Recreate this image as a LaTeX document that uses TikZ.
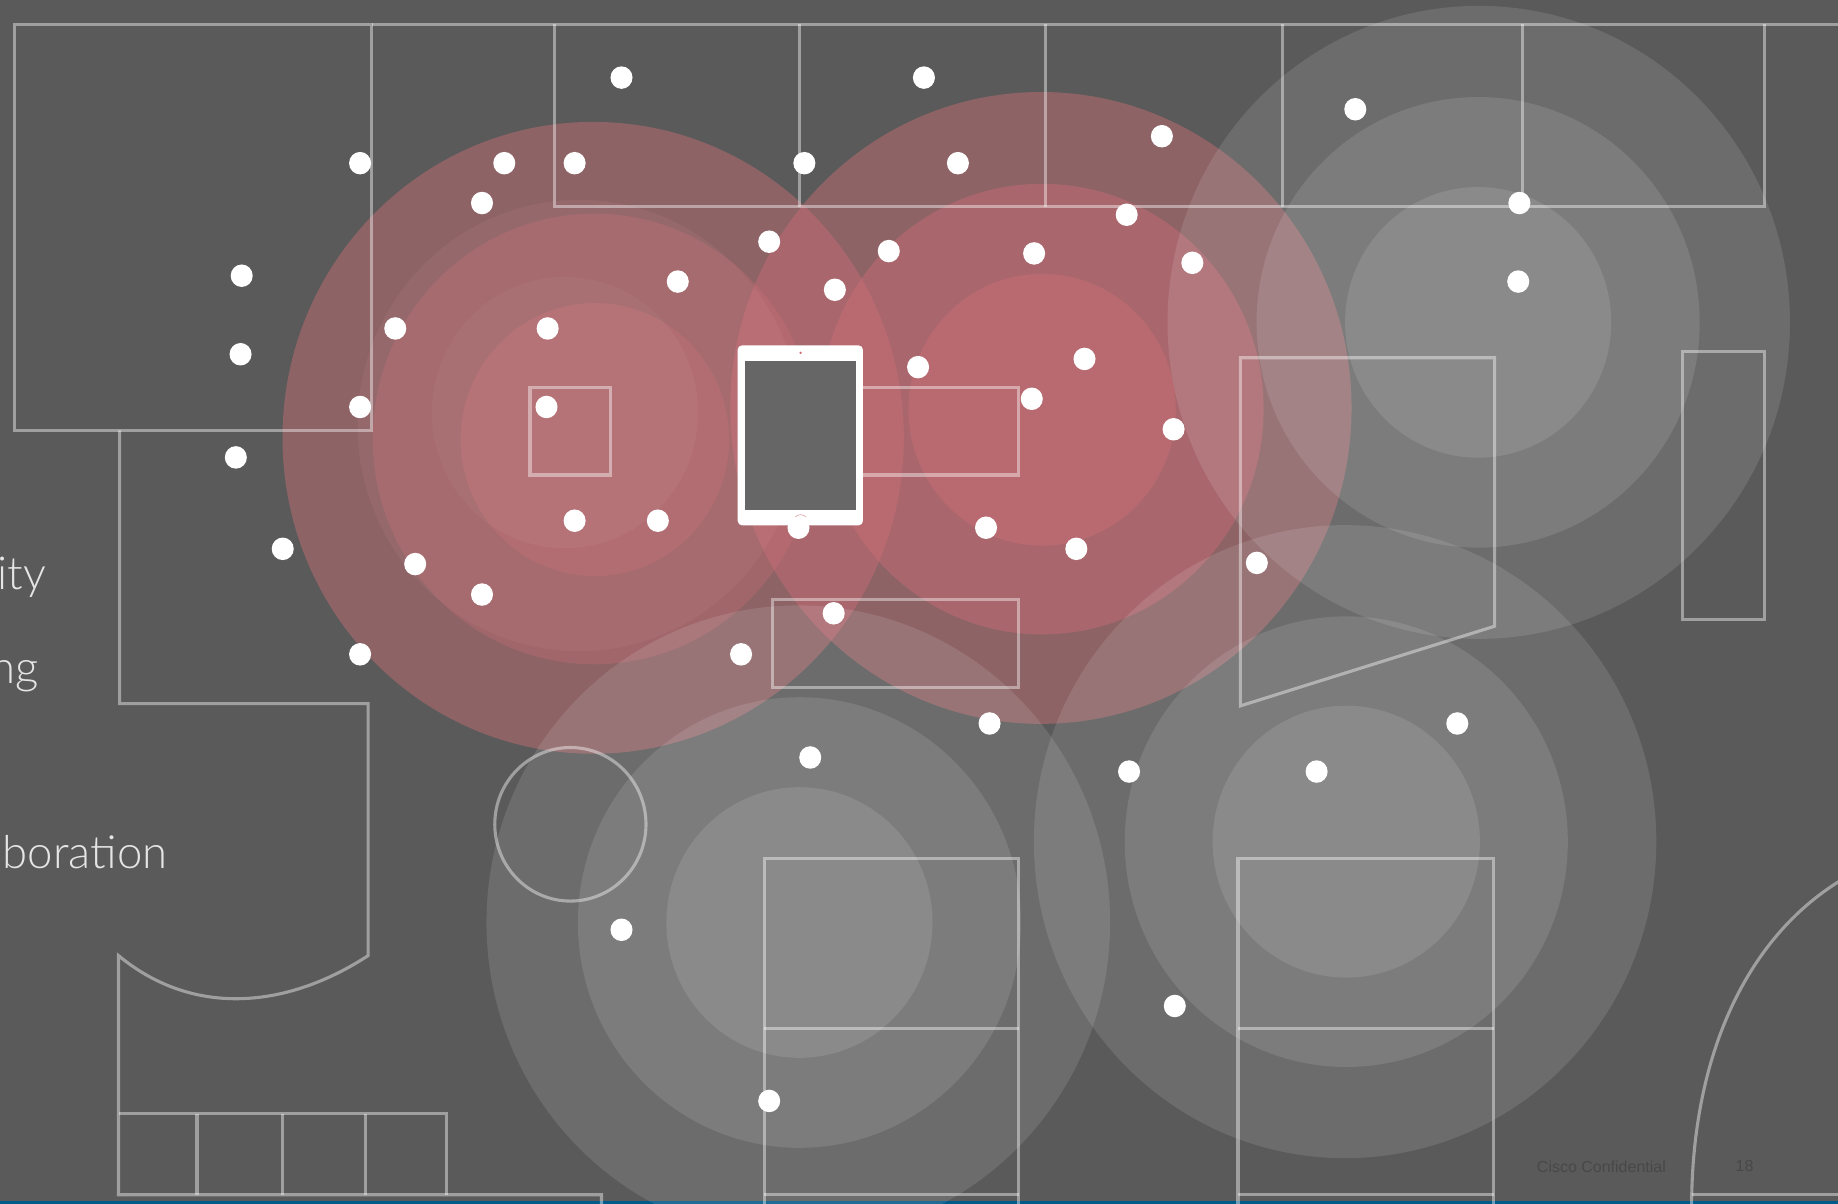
\documentclass[tikz,border=0pt]{standalone}
\usepackage{fontspec}
\usepackage{xcolor}
\usepackage{tikz}
\setmainfont[UprightFont={* Light}]{Lato}
\newfontfamily\footfont{Liberation Sans}
\definecolor{floorbg}{HTML}{5A5A5A}
\definecolor{barblue}{HTML}{005B8A}
\definecolor{signalred}{RGB}{205,110,118}
\definecolor{ghostred}{RGB}{235,165,172}
\definecolor{screengray}{HTML}{666666}
\definecolor{footgray}{HTML}{484848}
\tikzset{
    wall/.style={draw=white, draw opacity=0.42, line width=3.1pt, line join=miter},
    cellred/.style={fill=signalred, fill opacity=0.45},
    cellweak/.style={fill=signalred, fill opacity=0.3},
    cellgray/.style={fill=white, fill opacity=0.115},
    client/.style={fill=white},
    bigtext/.style={text=white!90!black, font=\fontsize{45.5}{48}\selectfont, inner sep=0pt, anchor=base east},
    foottext/.style={text=footgray, font=\footfont\fontsize{16}{18}\selectfont, inner sep=0pt, anchor=base west}
}

\begin{document}
\begin{tikzpicture}[x=1.17219pt, y=-1.17219pt]
        \useasboundingbox (0,0) rectangle (1568,1027.13);

        % Fondo
        \fill[floorbg] (0,0) rectangle (1568,1027.13);
        \fill[barblue] (0,1024.6) rectangle (1568,1027.13);

        % Celdas rojas
        \foreach \x/\y/\r in {506/373.5/265, 888/348/265, 889/349/189, 889/349.5/114} {
            \fill[cellred] (\x,\y) ellipse (\r*1 and {1.017*\r});
        }
        \foreach \x/\y/\r in {507/374.5/189, 507.5/375/114.5} {
            \fill[cellweak] (\x,\y) ellipse (\r*1 and {1.017*\r});
        }
        \fill[ghostred, fill opacity=0.09] (494,363) ellipse (189 and 192.5);
        \fill[white, fill opacity=0.04] (482,352) ellipse (113.5 and 115.7);

        % Celdas grises
        \foreach \x/\y/\r in {
            1261.5/275/265.5, 1261/275/189, 1261/275/113.5,
            681/787/266, 682/787/189, 682/787/113.5,
            1147.5/718/265.5, 1148.5/718/189, 1148.5/718/114
        } {
            \fill[cellgray] (\x,\y) ellipse (\r*1 and {1.017*\r});
        }

        % Muros
        \begin{scope}[shift={(0.1,0.2)}]
        \draw[wall] (12,20.5) rectangle (317,367);
        \draw[wall] (317,20.5) -- (1570,20.5);
        \draw[wall] (473,20.5) -- (473,176) -- (1505,176) -- (1505,20.5);
        \foreach \x in {682,892,1094,1299} {
            \draw[wall] (\x,20.5) -- (\x,176);
        }
        \draw[wall] (102,367) -- (102,600) -- (314,600) -- (314,815)
            .. controls (245,860) and (165,868) .. (101,815)
            -- (101,1019) -- (513,1019) -- (513,1030);
        \draw[wall] (101,950) -- (381,950) -- (381,1019);
        \foreach \x in {168,241,312} {
            \draw[wall] (\x,950) -- (\x,1019);
        }
        \draw[wall] (452,330) rectangle (521,405);
        \draw[wall] (680,330) -- (869,330) -- (869,405) -- (680,405);
        \draw[wall] (659,511) rectangle (869,586);
        \draw[wall] (1058,305) -- (1275,305) -- (1275,534) -- (1058,602) -- cycle;
        \draw[wall] (1435.5,299.5) rectangle (1505,528);
        \draw[wall] (486.5,703) ellipse (64.5 and 65.5);
        \foreach \x/\xx in {652/869, 1056/1274} {
            \draw[wall] (\x,1030) -- (\x,732) -- (\xx,732) -- (\xx,1030);
            \draw[wall] (\x,877) -- (\xx,877);
            \draw[wall] (\x,1019) -- (\xx,1019);
        }
        \draw[wall] (1570,751) .. controls (1490,800) and (1443,900) .. (1443,1030);
        \draw[wall] (1443,1019) -- (1570,1019);
        \end{scope}

        % Clientes
        \foreach \x/\y in {
            530/66, 788/66, 1156/93, 991/116, 307/139, 430/139, 490/139,
            686/139, 817/139, 411/173, 1296/173, 961/183, 656/206, 758/214,
            882/216, 1017/224, 206/235, 578/240, 712/247, 1295/240, 337/280,
            467/280, 205/302, 925/306, 783/313, 880/340, 307/347, 466/347,
            1001/366, 201/390, 490/444, 561/444, 681/450, 841/450, 241/468,
            918/468, 354/481, 1072/480, 411/507, 711/523, 307/558, 632/558,
            844/617, 1243/617, 691/646, 963/658, 1123/658, 530/793, 1002/858,
            656/939
        } {
            \fill[client] (\x+0.2,\y+0.2) ellipse (9.4 and 9.6);
        }

        % Tableta
        \fill[white, rounded corners=4.5pt] (629.3,294.6) rectangle (736.2,448.2);
        \fill[screengray] (635.8,307.7) rectangle (730,435);
        \fill[signalred] (683,301) circle (1.1);
        \draw[signalred!60!white, line width=0.7pt] (678.5,441) .. controls (680.5,438.5) and (685.5,438.5) .. (687.5,441);

        % Textos
        \node[bigtext] (qualitylabel) at (39.5,503) {ity};
        \node[bigtext] (meetinglabel) at (33,583) {ng};
        \node[bigtext] (collablabel) at (143,740.5) {boration};
        \node[foottext] (confidential) at (1311,1000) {Cisco Confidential};
        \node[foottext] (pagenum) at (1480.5,999.5) {18};

    \end{tikzpicture}
\end{document}
